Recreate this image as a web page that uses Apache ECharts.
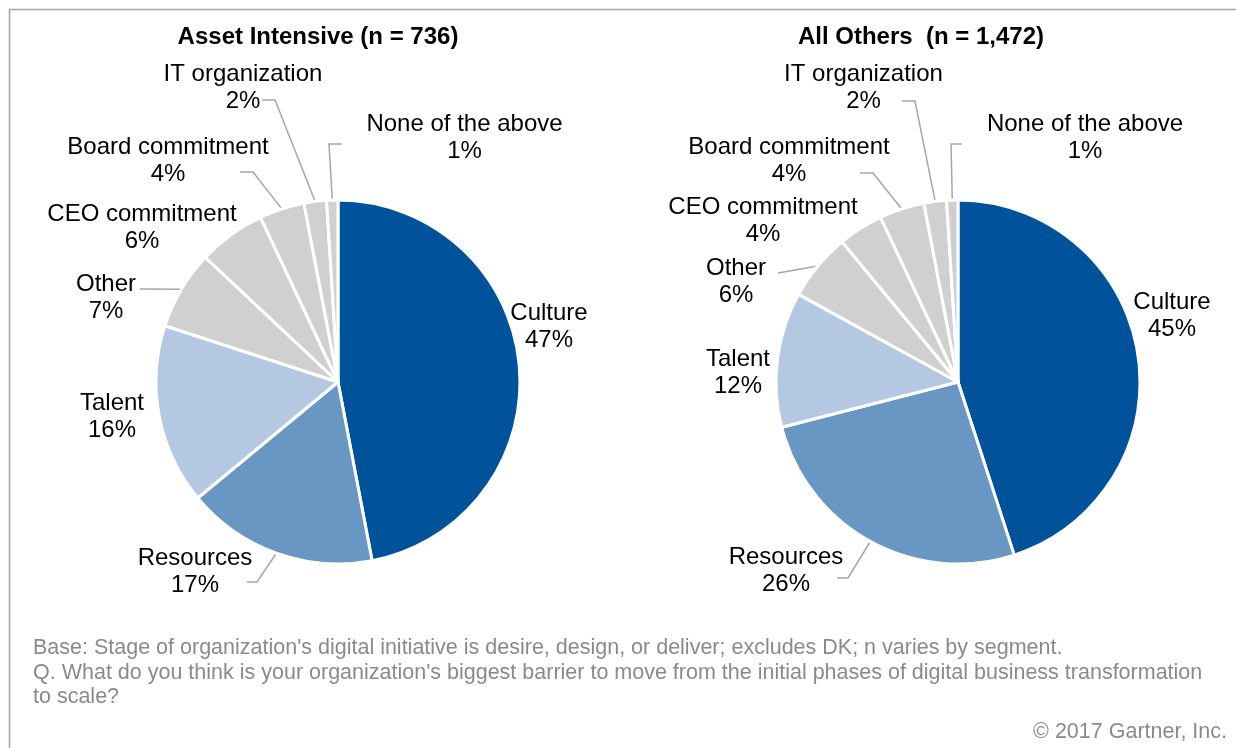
<!DOCTYPE html>
<html>
<head>
<meta charset="utf-8">
<script src="https://cdn.jsdelivr.net/npm/echarts@6/dist/echarts.min.js"></script>
<style>
  html, body { margin: 0; padding: 0; background: #fff; }
  #chart { width: 1236px; height: 748px; }
</style>
</head>
<body>
<div id="chart"></div>
<script>
// ---------- data ----------
const categories = ['Culture', 'Resources', 'Talent', 'Other', 'CEO commitment', 'Board commitment', 'IT organization', 'None of the above'];
const assetIntensive = [47, 17, 16, 7, 6, 4, 2, 1];
const allOthers = [45, 26, 12, 6, 4, 4, 2, 1];
const chartTitles = ['Asset Intensive (n = 736)', 'All Others  (n = 1,472)'];
const footnote = [
  "Base: Stage of organization's digital initiative is desire, design, or deliver; excludes DK; n varies by segment.",
  "Q. What do you think is your organization's biggest barrier to move from the initial phases of digital business transformation",
  "to scale?"
];
const copyright = '\u00a9 2017 Gartner, Inc.';

// ---------- layout / style ----------
const FONT = "'Liberation Sans', Arial, Helvetica, sans-serif";
const sliceColors = ['#00539b', '#6897c3', '#b4c9e1', '#d0d0d0', '#d0d0d0', '#d0d0d0', '#d0d0d0', '#d0d0d0'];
const pieCenters = [[338, 382], [958, 382]];
const pieRadius = 182;
const titleX = [318, 921];
// label block centre, offset from pie centre
const labelOffsets = [
  [[211, -55.5], [-143, 189.5], [-226, 35], [-232, -84.5], [-196, -154.5], [-170, -221], [-95, -294], [126.5, -244.5]],
  [[214, -66.5], [-172, 189], [-220, -9.5], [-222, -100], [-195, -161], [-169, -221], [-94.5, -294], [127, -244.5]]
];
// leader line: attach point (+ optional elbow), offsets from pie centre; null = no leader
const leaders = [
  [null, [[-91, 200], [-81, 200]], null, [[-198, -93]], null, [[-98, -210], [-85, -210]], [[-76, -282], [-63, -282]], [[4, -238], [-9, -238]]],
  [null, [[-121, 196], [-110, 196]], null, [[-180, -109]], null, [[-98, -209], [-85, -209]], [[-56, -281], [-43, -281]], [[4, -238], [-7, -238]]]
];

const seriesValues = [assetIntensive, allOthers];

function makeSeries(i) {
  const c = pieCenters[i];
  return {
    type: 'pie',
    center: c,
    radius: pieRadius,
    startAngle: 90,
    clockwise: true,
    avoidLabelOverlap: false,
    animation: false,
    emphasis: { disabled: true },
    itemStyle: { borderColor: '#ffffff', borderWidth: 3 },
    label: {
      show: true,
      position: 'outside',
      formatter: '{b}\n{c}%',
      fontFamily: FONT,
      fontSize: 24,
      lineHeight: 27,
      color: '#000000',
      align: 'center'
    },
    labelLine: {
      show: true,
      length: 10,
      length2: 10,
      smooth: false,
      lineStyle: { color: '#a6a6a6', width: 1.5 }
    },
    labelLayout: function (p) {
      const off = labelOffsets[i][p.dataIndex];
      const res = { x: c[0] + off[0], y: c[1] + off[1], align: 'center', verticalAlign: 'middle' };
      const ld = leaders[i][p.dataIndex];
      if (ld && p.labelLinePoints && p.labelLinePoints.length) {
        const pts = ld.map(function (o) { return [c[0] + o[0], c[1] + o[1]]; });
        pts.push(p.labelLinePoints[0]);
        res.labelLinePoints = pts;
      }
      return res;
    },
    data: categories.map(function (name, k) {
      return {
        name: name,
        value: seriesValues[i][k],
        itemStyle: { color: sliceColors[k] },
        labelLine: { show: leaders[i][k] !== null }
      };
    })
  };
}

const chart = echarts.init(document.getElementById('chart'), null, { renderer: 'canvas' });
chart.setOption({
  backgroundColor: '#ffffff',
  animation: false,
  title: [
    { text: chartTitles[0], left: titleX[0], top: 25, textAlign: 'center', padding: 0,
      textStyle: { fontFamily: FONT, fontSize: 24, fontWeight: 'bold', color: '#000' } },
    { text: chartTitles[1], left: titleX[1], top: 25, textAlign: 'center', padding: 0,
      textStyle: { fontFamily: FONT, fontSize: 24, fontWeight: 'bold', color: '#000' } },
    { text: footnote.join('\n'), left: 33, top: 636, padding: 0,
      textStyle: { fontFamily: FONT, fontSize: 21.5, fontWeight: 'normal', color: '#8a8a8a', lineHeight: 24.5 } },
    { text: copyright, right: 9, top: 721, padding: 0,
      textStyle: { fontFamily: FONT, fontSize: 21.5, fontWeight: 'normal', color: '#8a8a8a' } }
  ],
  graphic: [
    { type: 'line', shape: { x1: 9, y1: 9.5, x2: 1236, y2: 9.5 }, style: { stroke: '#a6a6a6', lineWidth: 1.5 }, silent: true },
    { type: 'line', shape: { x1: 9.5, y1: 9, x2: 9.5, y2: 748 }, style: { stroke: '#a6a6a6', lineWidth: 1.5 }, silent: true }
  ],
  series: [makeSeries(0), makeSeries(1)]
});
</script>
</body>
</html>
